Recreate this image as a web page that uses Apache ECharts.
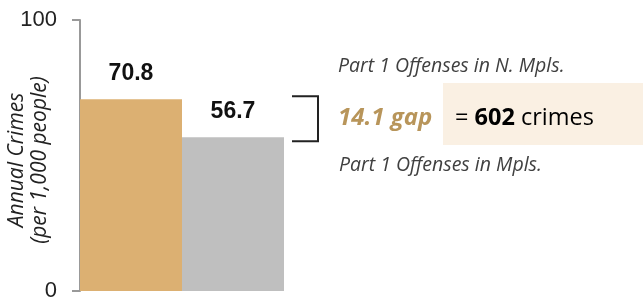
<!DOCTYPE html>
<html><head><meta charset="utf-8">
<script src="https://cdn.jsdelivr.net/npm/echarts@6/dist/echarts.min.js"></script>
<style>html,body{margin:0;padding:0;background:#fff}#c{width:643px;height:299px}</style>
</head><body><div id="c"></div>
<script>
const categories = ['N. Mpls.', 'Mpls.'];
const values = [70.8, 56.7];
const barColors = ['#dcb072', '#bfbfbf'];
const yTicks = [0, 100];
const yAxisTitle = ['Annual Crimes', '(per 1,000 people)'];
const gapValue = 14.1;
const gapCrimes = 602;

const chart = echarts.init(document.getElementById('c'));
const font = '"Open Sans", sans-serif';
chart.setOption({
  animation: false,
  grid: {left: 80, top: 20, width: 204, bottom: 8, containLabel: false, outerBoundsMode: 'none'},
  xAxis: {type: 'category', data: categories, axisLine: {show: false}, axisTick: {show: false}, axisLabel: {show: false}},
  yAxis: {
    type: 'value', min: yTicks[0], max: yTicks[1], interval: 100,
    axisLine: {show: true, lineStyle: {color: '#999', width: 2}},
    axisTick: {show: true, length: 8, lineStyle: {color: '#999', width: 2}},
    axisLabel: {margin: 23, fontSize: 22, color: '#222', fontFamily: '"Liberation Sans", Arial'},
    splitLine: {show: false}
  },
  series: [{
    type: 'bar', barWidth: '100%',
    data: values.map((v, i) => ({value: v, itemStyle: {color: barColors[i]}})),
    label: {show: true, position: 'top', distance: 14, fontSize: 23, fontWeight: 'bold', color: '#111', fontFamily: '"Liberation Sans", Arial'}
  }]
});

const yTop = chart.convertToPixel({yAxisIndex: 0}, values[0]);
const yBot = chart.convertToPixel({yAxisIndex: 0}, values[1]);
const midY = (yTop + yBot) / 2;
chart.setOption({
  graphic: [
    {type: 'text', x: 29, y: 160, rotation: Math.PI / 2, style: {
      text: yAxisTitle.join('\n'), font: 'italic 21px ' + font, lineHeight: 23, fill: '#222',
      align: 'center', verticalAlign: 'middle'}},
    {type: 'rect', shape: {x: 443, y: 83, width: 200, height: 62}, style: {fill: '#faf0e3'}},
    {type: 'polyline', shape: {points: [[292, yTop - 3], [318, yTop - 3], [318, yBot + 4], [292, yBot + 4]]}, style: {stroke: '#222', lineWidth: 2, fill: null}},
    {type: 'text', x: 338, y: 66, style: {text: 'Part 1 Offenses in N. Mpls.', font: 'italic 19.5px ' + font, fill: '#404040', verticalAlign: 'middle'}},
    {type: 'text', x: 339, y: 165, style: {text: 'Part 1 Offenses in Mpls.', font: 'italic 19.5px ' + font, fill: '#404040', verticalAlign: 'middle'}},
    {type: 'text', x: 338, y: midY, style: {text: gapValue.toFixed(1) + ' gap', font: 'italic bold 24px ' + font, fill: '#b8955a', verticalAlign: 'middle'}},
    {type: 'text', x: 455, y: midY, style: {
      text: '{a|= }{b|' + gapCrimes + '}{a| crimes}', verticalAlign: 'middle',
      rich: {a: {fontSize: 23.5, fontFamily: font, color: '#222'}, b: {fontSize: 23.5, fontWeight: 'bold', fontFamily: font, color: '#222'}}
    }}
  ]
});
</script></body></html>
